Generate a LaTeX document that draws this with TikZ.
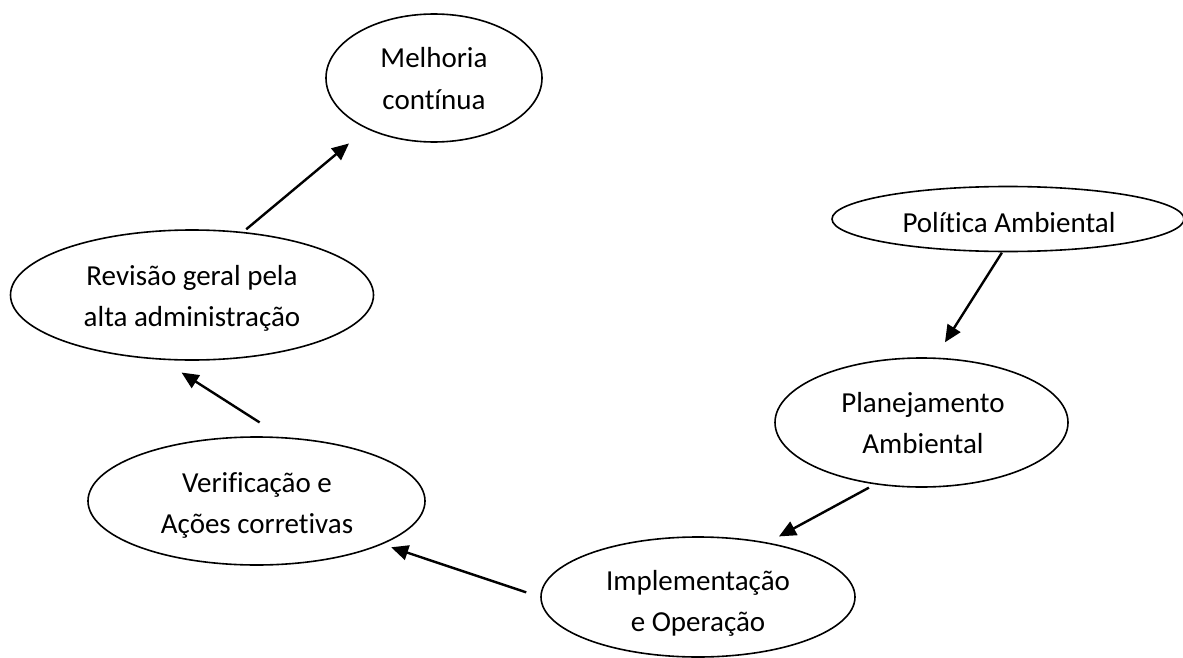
\documentclass[tikz,border=0pt]{standalone}
\usepackage{fontspec}
\setmainfont{Carlito}[Ligatures=NoCommon]
\usetikzlibrary{arrows.meta,shapes.geometric}
\begin{document}
\begin{tikzpicture}[x=1pt,y=-1pt,
  elps/.style={ellipse, draw=black, line width=1.6pt, inner sep=0pt},
  txt/.style={inner sep=0pt, anchor=base, font=\fontsize{29}{41.5}\selectfont},
  arr/.style={line width=2.4pt, -{Triangle[length=17pt,width=15pt]}}]
\useasboundingbox (0,0) rectangle (1183,658);
% ellipses
\node[elps, minimum width=216pt, minimum height=128pt] (mel) at (434,78) {};
\node[elps, minimum width=352pt, minimum height=65pt]  (pol) at (1008,219) {};
\node[elps, minimum width=293pt, minimum height=129pt] (pla) at (921.5,422.5) {};
\node[elps, minimum width=314pt, minimum height=120pt] (imp) at (698,597) {};
\node[elps, minimum width=337pt, minimum height=128pt] (ver) at (256.5,501) {};
\node[elps, minimum width=363pt, minimum height=130pt] (rev) at (192,295) {};
% texts
\node[txt] (melt) at (434,68) {\begin{tabular}[t]{@{}c@{}}Melhoria\\contínua\end{tabular}};
\node[txt] (polt) at (1009,232) {Política Ambiental};
\node[txt] (plat) at (923,412) {\begin{tabular}[t]{@{}c@{}}Planejamento\\Ambiental\end{tabular}};
\node[txt] (impt) at (698,590) {\begin{tabular}[t]{@{}c@{}}Implementação\\e Operação\end{tabular}};
\node[txt] (vert) at (257,492) {\begin{tabular}[t]{@{}c@{}}Verificação e\\Ações corretivas\end{tabular}};
\node[txt] (revt) at (192,285) {\begin{tabular}[t]{@{}c@{}}Revisão geral pela\\alta administração\end{tabular}};
% arrows
\draw[arr, shorten <=4pt, shorten >=22.8pt] (rev.51) -- (mel.217);
\draw[arr, shorten <=0.5pt, shorten >=18pt] (pol.260) -- (pla.78);
\draw[arr, shorten <=6.7pt, shorten >=12.7pt] (pla.233) -- (imp.38);
\draw[arr, shorten <=14.7pt, shorten >=9.3pt] (imp.180) -- (ver.341);
\draw[arr, shorten <=27pt, shorten >=23.5pt] (ver.68) -- (rev.245);
\end{tikzpicture}
\end{document}
